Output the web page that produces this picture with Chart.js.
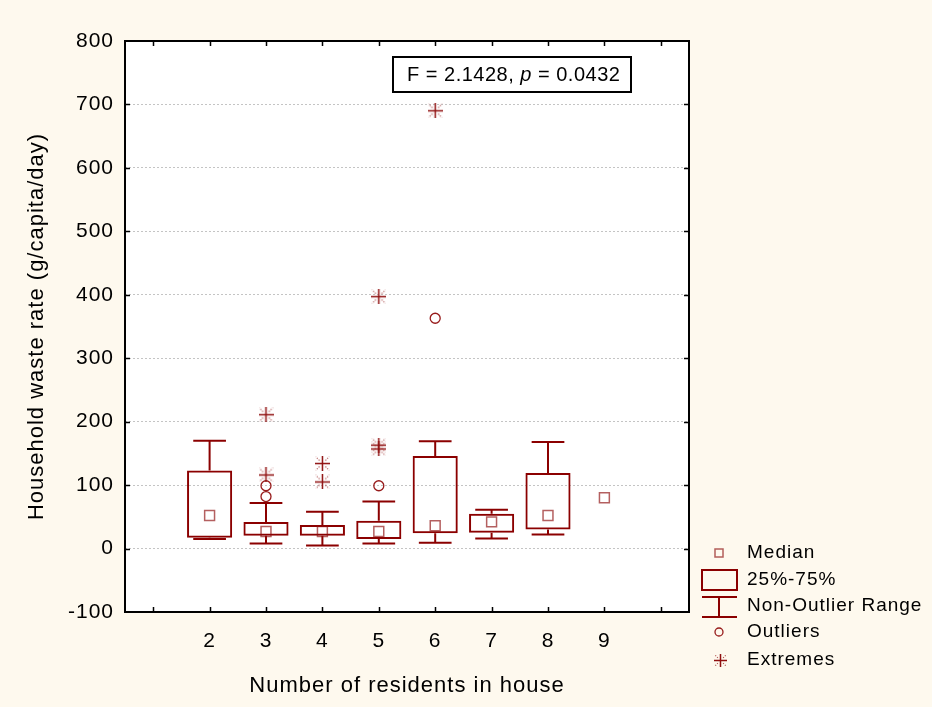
<!DOCTYPE html>
<html lang="en">
<head>
<meta charset="UTF-8">
<title>Household waste rate by number of residents</title>
<script src="https://cdn.jsdelivr.net/npm/chart.js@4.4.1/dist/chart.umd.min.js"></script>
<style>
  body { margin: 0; background: #fef9ee; }
  canvas { display: block; }
</style>
</head>
<body>
<canvas id="boxChart" width="932" height="707"></canvas>
<script>
// values, one entry per house size
const groups = [2, 3, 4, 5, 6, 7, 8, 9];
const medians = [52, 27, 27, 27, 36, 42, 52, 80];
const q1 = [17, 20, 20, 15, 24, 25, 30, null];
const q3 = [123, 42, 37, 44, 146, 55, 119, null];
const whiskerLow = [15, 8, 5, 8, 9, 16, 22, null];
const whiskerHigh = [170, 72, 58, 74, 169, 61, 168, null];
const outliers = [[], [99, 82], [], [99], [363], [], [], []];
const extremes = [[], [211, 116], [134, 105], [397, 163, 157], [690], [], [], []];

const xTickValues = [1, 2, 3, 4, 5, 6, 7, 8, 9, 10];
const xTickLabels = ['', '2', '3', '4', '5', '6', '7', '8', '9', ''];
const yTickValues = [-100, 0, 100, 200, 300, 400, 500, 600, 700, 800];
const legendLabels = ['Median', '25%-75%', 'Non-Outlier Range', 'Outliers', 'Extremes'];
const statText = ['F = 2.1428, ', 'p', ' = 0.0432'];

const FONT = "'Liberation Sans', Arial, sans-serif";
const RED = '#8b0000';
const MEDIAN_RED = 'rgba(140, 10, 10, 0.65)';
const MARK_RED = 'rgba(145, 15, 15, 0.95)';
const CAP = 0.29;

function makeStar(size, color) {
    const c = document.createElement('canvas');
    c.width = size;
    c.height = size;
    const g = c.getContext('2d');
    const m = Math.floor(size / 2) + 0.5;
    g.strokeStyle = color;
    g.lineWidth = 1.5;
    g.beginPath();
    g.moveTo(m, 0); g.lineTo(m, size);
    g.moveTo(0, m); g.lineTo(size, m);
    g.stroke();
    g.lineWidth = 1.1;
    g.strokeStyle = 'rgba(150, 30, 30, 0.75)';
    g.setLineDash([1.2, 1.3]);
    const a = size * 0.2, b = size * 0.45;
    [[-1, -1], [1, -1], [-1, 1], [1, 1]].forEach(([sx, sy]) => {
        g.beginPath();
        g.moveTo(m + sx * a, m + sy * a);
        g.lineTo(m + sx * b, m + sy * b);
        g.stroke();
    });
    return c;
}
const starBig = makeStar(15, '#8f0f0f');
const starSmall = makeStar(13, '#8f0f0f');

// datasets
const boxData = [];
const whiskerData = [];
const medianData = [];
const outlierData = [];
const extremeData = [];
groups.forEach((g, i) => {
    medianData.push({ x: g, y: medians[i] });
    outliers[i].forEach(v => outlierData.push({ x: g, y: v }));
    extremes[i].forEach(v => extremeData.push({ x: g, y: v }));
    if (q1[i] === null) return;
    boxData.push({ x: g, y: [q1[i], q3[i]] });
    whiskerData.push(
        { x: g, y: q3[i] }, { x: g, y: whiskerHigh[i] }, { x: g, y: null },
        { x: g - CAP, y: whiskerHigh[i] }, { x: g + CAP, y: whiskerHigh[i] }, { x: g, y: null },
        { x: g, y: q1[i] }, { x: g, y: whiskerLow[i] }, { x: g, y: null },
        { x: g - CAP, y: whiskerLow[i] }, { x: g + CAP, y: whiskerLow[i] }, { x: g, y: null }
    );
});

const spacingPlugin = {
    id: 'spacing',
    beforeLayout(chart) { chart.ctx.letterSpacing = '1px'; },
    beforeDraw(chart) { chart.ctx.letterSpacing = '1px'; }
};

const backgroundPlugin = {
    id: 'background',
    beforeDraw(chart) {
        const { ctx, chartArea: a } = chart;
        ctx.save();
        ctx.fillStyle = '#fef9ee';
        ctx.fillRect(0, 0, chart.width, chart.height);
        ctx.fillStyle = '#ffffff';
        ctx.fillRect(a.left, a.top, a.right - a.left, a.bottom - a.top);
        ctx.restore();
    }
};

const framePlugin = {
    id: 'frame',
    afterDraw(chart) {
        const { ctx, chartArea: a, scales } = chart;
        ctx.save();
        ctx.strokeStyle = '#000';
        ctx.lineWidth = 1.5;
        ctx.beginPath();
        scales.x.ticks.forEach((t, i) => {
            const px = Math.round(scales.x.getPixelForTick(i)) + 0.5;
            ctx.moveTo(px, a.bottom); ctx.lineTo(px, a.bottom - 5);
            ctx.moveTo(px, a.top); ctx.lineTo(px, a.top + 5);
        });
        scales.y.ticks.forEach((t, i) => {
            if (t.value === yTickValues[0] || t.value === yTickValues[yTickValues.length - 1]) return;
            const py = Math.round(scales.y.getPixelForTick(i)) + 0.5;
            ctx.moveTo(a.left, py); ctx.lineTo(a.left + 5, py);
            ctx.moveTo(a.right, py); ctx.lineTo(a.right - 5, py);
        });
        ctx.stroke();
        ctx.lineWidth = 2;
        ctx.strokeRect(a.left, a.top, a.right - a.left, a.bottom - a.top);

        // F test box
        ctx.fillStyle = '#fff';
        ctx.fillRect(393, 57, 238, 35);
        ctx.strokeRect(393, 57, 238, 35);
        ctx.fillStyle = '#000';
        ctx.textBaseline = 'middle';
        ctx.letterSpacing = '0.5px';
        let tx = 407;
        statText.forEach((s, i) => {
            ctx.font = (i === 1 ? 'italic ' : '') + '20px ' + FONT;
            ctx.fillText(s, tx, 75);
            tx += ctx.measureText(s).width;
        });

        // legend
        const lx = 719, textX = 747;
        const rows = [553, 580, 606, 632, 660];
        ctx.strokeStyle = MEDIAN_RED;
        ctx.lineWidth = 1.5;
        ctx.strokeRect(lx - 4, rows[0] - 4, 8, 8);
        ctx.strokeStyle = RED;
        ctx.lineWidth = 2;
        ctx.strokeRect(702, 570, 35, 20);
        ctx.beginPath();
        ctx.moveTo(702, 597); ctx.lineTo(737, 597);
        ctx.moveTo(lx, 597); ctx.lineTo(lx, 617);
        ctx.moveTo(702, 617); ctx.lineTo(737, 617);
        ctx.stroke();
        ctx.strokeStyle = MARK_RED;
        ctx.lineWidth = 1.3;
        ctx.beginPath();
        ctx.arc(lx, rows[3], 4, 0, Math.PI * 2);
        ctx.stroke();
        ctx.drawImage(starSmall, lx - 6 + 1, rows[4] - 6);
        ctx.fillStyle = '#000';
        ctx.font = '19px ' + FONT;
        ctx.letterSpacing = '1px';
        legendLabels.forEach((s, i) => ctx.fillText(s, textX, rows[i]));
        ctx.restore();
    }
};

new Chart(document.getElementById('boxChart'), {
    type: 'scatter',
    data: {
        datasets: [
            {
                label: 'Median',
                data: medianData,
                pointStyle: 'rect',
                pointRadius: 7,
                borderWidth: 1.5,
                borderColor: MEDIAN_RED,
                backgroundColor: 'rgba(0,0,0,0)'
            },
            {
                label: 'Outliers',
                data: outlierData,
                pointStyle: 'circle',
                pointRadius: 5,
                borderWidth: 1.3,
                borderColor: MARK_RED,
                backgroundColor: 'rgba(0,0,0,0)'
            },
            {
                label: 'Extremes',
                data: extremeData,
                pointStyle: starBig,
                pointRadius: 7
            },
            {
                type: 'line',
                label: 'Non-Outlier Range',
                data: whiskerData,
                borderColor: RED,
                borderWidth: 2,
                pointRadius: 0,
                spanGaps: false,
                tension: 0
            },
            {
                type: 'bar',
                label: '25%-75%',
                data: boxData,
                borderColor: RED,
                borderWidth: 2,
                borderSkipped: false,
                backgroundColor: 'rgba(0,0,0,0)',
                categoryPercentage: 1,
                barPercentage: 0.8
            }
        ]
    },
    options: {
        responsive: false,
        animation: false,
        events: [],
        layout: { padding: { left: 0, right: 243, top: 41, bottom: 0 } },
        plugins: {
            legend: { display: false },
            tooltip: { enabled: false }
        },
        scales: {
            x: {
                type: 'linear',
                min: 0.5,
                max: 10.5,
                offset: false,
                afterBuildTicks: axis => { axis.ticks = xTickValues.map(v => ({ value: v })); },
                afterFit: axis => { axis.height = 95; },
                grid: { display: false, drawTicks: false, offset: false },
                border: { display: false },
                ticks: {
                    padding: 17,
                    color: '#000',
                    autoSkip: false,
                    maxRotation: 0,
                    font: { family: FONT, size: 21 },
                    callback: (v, i) => xTickLabels[i]
                },
                title: {
                    display: true,
                    text: 'Number of residents in house',
                    color: '#000',
                    font: { family: FONT, size: 22 },
                    padding: { top: 0, bottom: 8 }
                }
            },
            y: {
                type: 'linear',
                min: yTickValues[0],
                max: yTickValues[yTickValues.length - 1],
                afterBuildTicks: axis => { axis.ticks = yTickValues.map(v => ({ value: v })); },
                afterFit: axis => { axis.width = 125; },
                grid: {
                    drawTicks: false,
                    lineWidth: 1,
                    color: c => (c.tick && (c.tick.value === -100 || c.tick.value === 800)) ? 'rgba(0,0,0,0)' : '#c4c4c4'
                },
                border: { display: false, dash: [2, 2] },
                ticks: {
                    padding: 11,
                    color: '#000',
                    font: { family: FONT, size: 21 },
                    callback: v => String(v)
                },
                title: {
                    display: true,
                    text: 'Household waste rate (g/capita/day)',
                    color: '#000',
                    font: { family: FONT, size: 22 },
                    padding: { top: 24, bottom: 0 }
                }
            }
        }
    },
    plugins: [spacingPlugin, backgroundPlugin, framePlugin]
});
</script>
</body>
</html>
